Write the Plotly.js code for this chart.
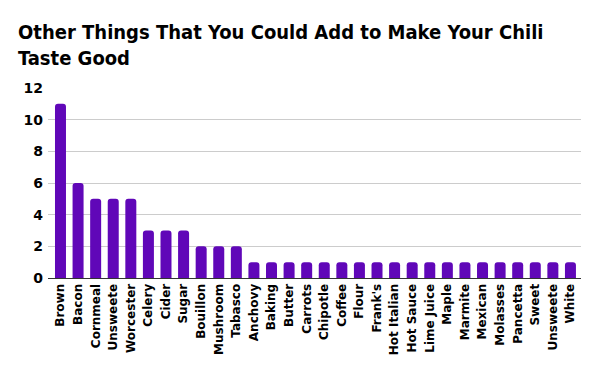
<!DOCTYPE html>
<html><head><meta charset="utf-8">
<script src="https://cdn.plot.ly/plotly-3.0.1.min.js"></script>
<style>html,body{margin:0;padding:0;background:#fff}#chart{width:600px;height:371px}</style>
</head><body><div id="chart"></div>
<script>
const labels = ["Brown","Bacon","Cornmeal","Unsweete","Worcester","Celery","Cider","Sugar","Bouillon","Mushroom","Tabasco","Anchovy","Baking","Butter","Carrots","Chipotle","Coffee","Flour","Frank's","Hot Italian","Hot Sauce","Lime Juice","Maple","Marmite","Mexican","Molasses","Pancetta","Sweet","Unsweete","White"];
const values = [11,6,5,5,5,3,3,3,2,2,2,1,1,1,1,1,1,1,1,1,1,1,1,1,1,1,1,1,1,1];
const positions = labels.map((_, i) => i);
const font = "DejaVu Sans, Verdana, sans-serif";
Plotly.newPlot('chart', [{
  type: 'bar', x: positions, y: values,
  marker: {color: '#6007b8', cornerradius: 3},
  hovertemplate: '%{text}: %{y}<extra></extra>', text: labels, textposition: 'none'
}], {
  width: 600, height: 371,
  margin: {l: 48, r: 19, t: 88, b: 93},
  bargap: 0.375,
  paper_bgcolor: '#fff', plot_bgcolor: '#fff',
  title: {text: 'Other Things That You Could Add to Make Your Chili<br>Taste Good',
    font: {family: "DejaVu Sans Condensed, sans-serif", size: 20, color: '#000', weight: 'bold'},
    x: 18/600, xanchor: 'left', xref: 'container', y: 0.895, yref: 'container', yanchor: 'top'},
  xaxis: {tickmode: 'array', tickvals: positions, ticktext: labels, tickangle: -90,
    range: [-0.71, 29.6], showgrid: false, zeroline: false,
    showline: true, linecolor: '#333', linewidth: 1, ticks: '',
    tickfont: {family: font, size: 12, color: '#000', weight: 'bold'}},
  yaxis: {range: [0, 12], dtick: 2, gridcolor: '#cccccc', zeroline: false, ticks: '',
    ticklabelstandoff: 4,
    tickfont: {family: font, size: 14, color: '#000', weight: 'bold'}, ticklen: 0},
  showlegend: false
}, {displayModeBar: false, staticPlot: true});
</script></body></html>
